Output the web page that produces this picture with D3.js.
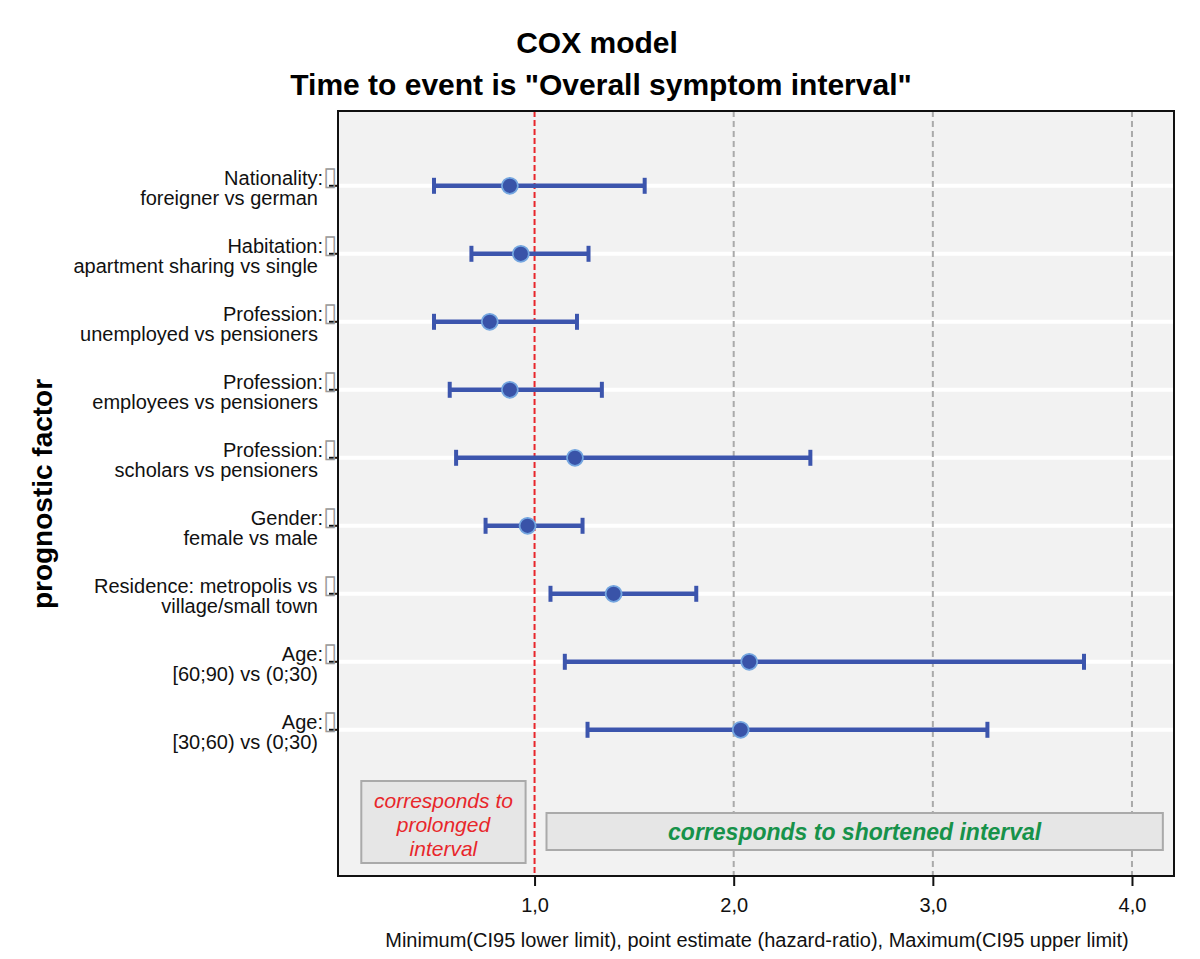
<!DOCTYPE html>
<html><head><meta charset="utf-8">
<script src="https://cdn.jsdelivr.net/npm/d3@7/dist/d3.min.js"></script>
<style>
body{margin:0;background:#fff;}
svg text{font-family:"Liberation Sans",Arial,sans-serif;}
</style></head>
<body><svg id="chart" width="1200" height="959"></svg>
<script>
const labelsTop = ["Nationality:","Habitation:","Profession:","Profession:","Profession:","Gender:","Residence: metropolis vs ","Age:","Age:"];
const labelsBottom = ["foreigner vs german","apartment sharing vs single","unemployed vs pensioners","employees vs pensioners","scholars vs pensioners","female vs male","village/small town","[60;90) vs (0;30)","[30;60) vs (0;30)"];
const lower = [0.495,0.683,0.495,0.574,0.606,0.754,1.080,1.152,1.266];
const estimate = [0.876,0.931,0.775,0.876,1.203,0.965,1.397,2.078,2.035];
const upper = [1.553,1.271,1.213,1.338,2.385,1.241,1.812,3.759,3.274];
const xTicks = [1,2,3,4];
const xTickLabels = ["1,0","2,0","3,0","4,0"];

const svg = d3.select("#chart");
const L=338, R=1174, T=111, B=876;
const x = d3.scaleLinear().domain([0.013,4.211]).range([L,R]);
const y = d3.scaleLinear().domain([-1.1,10.15]).range([T,B]);
const idx = d3.range(labelsTop.length);

svg.append("rect").attr("x",L).attr("y",T).attr("width",R-L).attr("height",B-T).attr("fill","#f2f2f2");

// white horizontal grid
svg.selectAll(".hg").data(idx).join("line")
  .attr("x1",L).attr("x2",R).attr("y1",i=>y(i)).attr("y2",i=>y(i))
  .attr("stroke","#fff").attr("stroke-width",4);

// grey dashed vertical
svg.selectAll(".vg").data(xTicks.slice(1)).join("line")
  .attr("x1",d=>x(d)).attr("x2",d=>x(d)).attr("y1",T).attr("y2",B)
  .attr("stroke","#aaaaaa").attr("stroke-width",2).attr("stroke-dasharray","6,4");

// red reference
svg.append("line").attr("x1",x(1)).attr("x2",x(1)).attr("y1",T).attr("y2",B)
  .attr("stroke","#e8262b").attr("stroke-width",2).attr("stroke-dasharray","6,3");

// annotation boxes
const ann = svg.append("g");
ann.append("rect").attr("x",x(0.13)).attr("y",781).attr("width",x(0.955)-x(0.13)).attr("height",82)
  .attr("fill","#e6e6e6").attr("stroke","#aaaaaa").attr("stroke-width",2);
[["corresponds to",808],["prolonged",832],["interval",856]].forEach(([t,yy])=>{
  ann.append("text").attr("x",(x(0.13)+x(0.955))/2).attr("y",yy).attr("text-anchor","middle")
    .attr("fill","#e8262b").attr("font-size",21).attr("font-style","italic").text(t);
});
ann.append("rect").attr("x",x(1.06)).attr("y",813).attr("width",x(4.155)-x(1.06)).attr("height",37)
  .attr("fill","#e6e6e6").attr("stroke","#aaaaaa").attr("stroke-width",2);
ann.append("text").attr("x",(x(1.06)+x(4.155))/2).attr("y",840).attr("text-anchor","middle")
  .attr("fill","#17924a").attr("font-size",23).attr("font-style","italic").attr("font-weight","bold")
  .text("corresponds to shortened interval");

// error bars
const col = "#3c55ad";
const g = svg.append("g");
g.selectAll(".eb").data(idx).join("line")
  .attr("x1",i=>x(lower[i])).attr("x2",i=>x(upper[i])).attr("y1",i=>y(i)).attr("y2",i=>y(i))
  .attr("stroke",col).attr("stroke-width",4.5);
g.selectAll(".cl").data(idx).join("line")
  .attr("x1",i=>x(lower[i])).attr("x2",i=>x(lower[i])).attr("y1",i=>y(i)-8).attr("y2",i=>y(i)+8)
  .attr("stroke",col).attr("stroke-width",4);
g.selectAll(".cu").data(idx).join("line")
  .attr("x1",i=>x(upper[i])).attr("x2",i=>x(upper[i])).attr("y1",i=>y(i)-8).attr("y2",i=>y(i)+8)
  .attr("stroke",col).attr("stroke-width",4);
g.selectAll(".pt").data(idx).join("circle")
  .attr("cx",i=>x(estimate[i])).attr("cy",i=>y(i)).attr("r",8)
  .attr("fill","#3953a8").attr("stroke","#74a6e0").attr("stroke-width",1.8);

// frame
svg.append("rect").attr("x",L).attr("y",T).attr("width",R-L).attr("height",B-T)
  .attr("fill","none").attr("stroke","#111").attr("stroke-width",2);

// x axis
const xa = svg.append("g").attr("transform",`translate(0,${B})`)
  .call(d3.axisBottom(x).tickValues(xTicks).tickFormat((d,i)=>xTickLabels[i]).tickSize(10).tickPadding(12));
xa.attr("font-size",20).attr("font-family","Liberation Sans, Arial, sans-serif");
xa.select(".domain").remove();
xa.selectAll(".tick line").attr("stroke","#111").attr("stroke-width",2);
xa.selectAll(".tick text").attr("fill","#111");

// y ticks
svg.selectAll(".yt").data(idx).join("line")
  .attr("x1",L-9).attr("x2",L).attr("y1",i=>y(i)).attr("y2",i=>y(i))
  .attr("stroke","#111").attr("stroke-width",2);

// y labels
const yl = svg.append("g");
idx.forEach(i=>{
  const t = yl.append("text").attr("x",L-1).attr("y",y(i)-1).attr("text-anchor","end")
    .attr("font-size",20).attr("fill","#111");
  t.append("tspan").text(labelsTop[i]);
  t.append("tspan").attr("fill","#999").attr("font-size",26).text("\u25AF");
  yl.append("text").attr("x",L-20).attr("y",y(i)+19).attr("text-anchor","end")
    .attr("font-size",20).attr("fill","#111").text(labelsBottom[i]);
});

// titles
svg.append("text").attr("x",597).attr("y",53).attr("text-anchor","middle")
  .attr("font-size",30).attr("font-weight","bold").attr("fill","#000").text("COX model");
svg.append("text").attr("x",601).attr("y",95).attr("text-anchor","middle")
  .attr("font-size",30).attr("font-weight","bold").attr("fill","#000").text('Time to event is "Overall symptom interval"');
svg.append("text").attr("x",757).attr("y",947).attr("text-anchor","middle")
  .attr("font-size",20).attr("fill","#111").text("Minimum(CI95 lower limit), point estimate (hazard-ratio), Maximum(CI95 upper limit)");
svg.append("text").attr("transform","translate(52,494) rotate(-90)").attr("text-anchor","middle")
  .attr("font-size",28).attr("font-weight","bold").attr("fill","#000").text("prognostic factor");
</script></body></html>
